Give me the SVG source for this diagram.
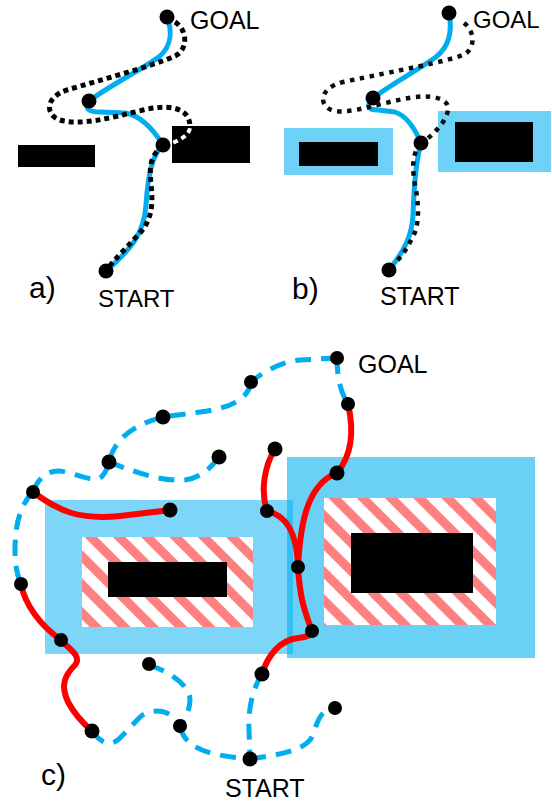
<svg xmlns="http://www.w3.org/2000/svg" width="552" height="802" viewBox="0 0 552 802">
<style>
.t{font-family:"Liberation Sans",Arial,sans-serif;fill:#000}
.blue{fill:none;stroke:#00AEEF;stroke-width:5;stroke-linecap:round}
.bd{fill:none;stroke:#00AEEF;stroke-width:5;stroke-dasharray:16 10}
.red{fill:none;stroke:#FF0000;stroke-width:6;stroke-linecap:round}
.dotA{fill:none;stroke:#000;stroke-width:5;stroke-dasharray:5 4}
.dotW{fill:none;stroke:#fff;stroke-width:4;stroke-dasharray:5 4}
.dotB{fill:none;stroke:#111;stroke-width:4.5;stroke-dasharray:4.5 5.5;filter:url(#blur)}
.obs{fill:#000}
.inf{fill:#00AEEF;opacity:0.57}
.node{fill:#000}
</style>
<defs>
<filter id="blur" x="-5%" y="-5%" width="110%" height="110%"><feGaussianBlur stdDeviation="0.5"/></filter>
<pattern id="hatch" patternUnits="userSpaceOnUse" width="20" height="20" patternTransform="rotate(-45)">
<rect width="20" height="20" fill="#fff"/>
<rect width="9" height="20" fill="#FF8080"/>
</pattern>
<clipPath id="clipA"><rect x="172" y="126" width="78" height="37"/></clipPath>
</defs>

<!-- Panel a -->
<g id="panel-a">
<rect id="a-obs-left" class="obs" x="18" y="145" width="77" height="22"/>
<rect id="a-obs-right" class="obs" x="172" y="126" width="78" height="37"/>
<g id="a-connectors">
<path class="blue" d="M167,17 C172,30 172,45 160,56 C145,68 115,82 89,101"/>
<path class="blue" d="M89,101 Q82,112 100,112 L125,113 Q145,116 163,145"/>
<path class="blue" d="M163,145 C152,155 148,175 146,205 C144,235 130,250 106,271"/>
<path class="dotA" d="M175,22 C188,30 188,50 175,56 C150,67 100,80 67,90 C45,97 45,115 60,120 C80,126 110,118 143,110 C165,105 190,105 190,127 C190,135 180,140 168,145"/>
<path class="dotW" clip-path="url(#clipA)" d="M175,22 C188,30 188,50 175,56 C150,67 100,80 67,90 C45,97 45,115 60,120 C80,126 110,118 143,110 C165,105 190,105 190,127 C190,135 180,140 168,145"/>
<path class="dotA" d="M163,145 C148,158 150,170 151,185 C154,210 150,225 133,240 C125,250 115,258 106,271"/>
</g>
<g id="a-goal"><circle class="node" cx="167" cy="17" r="7.5"/><text class="t" x="190" y="29" font-size="25">GOAL</text></g>
<g id="a-n1"><circle class="node" cx="89" cy="101" r="7.5"/></g>
<g id="a-n2"><circle class="node" cx="163" cy="145" r="7.5"/></g>
<g id="a-start"><circle class="node" cx="106" cy="271" r="7.5"/><text class="t" x="98" y="307" font-size="24">START</text></g>
<text class="t" x="29" y="298" font-size="30">a)</text>
</g>

<!-- Panel b -->
<g id="panel-b">
<rect id="b-inf-left" class="inf" x="284" y="128" width="109" height="47"/>
<rect id="b-obs-left" class="obs" x="299" y="142" width="79" height="24"/>
<rect id="b-inf-right" class="inf" x="438" y="111" width="113" height="61"/>
<rect id="b-obs-right" class="obs" x="455" y="122" width="78" height="40"/>
<g id="b-connectors">
<path class="blue" d="M449,13 C452,28 451,45 436,57 C418,70 395,82 373,98"/>
<path class="blue" d="M373,98 Q362,110 378,110 L395,112 Q410,117 421,143"/>
<path class="blue" d="M421,143 C416,160 414,185 413,215 C412,235 405,250 389,270"/>
<path class="dotB" d="M464,23 C476,32 475,50 463,55 C445,62 400,70 343,82 C318,88 318,108 335,111 C350,114 380,103 409,98 C430,94 450,98 448,110 C446,122 435,132 424,142"/>
<path class="dotB" d="M421,143 C410,155 413,175 416,190 C420,215 418,230 410,242 C405,252 400,258 394,264"/>
</g>
<g id="b-goal"><circle class="node" cx="449" cy="13" r="7.5"/><text class="t" x="473" y="28" font-size="24">GOAL</text></g>
<g id="b-n1"><circle class="node" cx="373" cy="98" r="7.5"/></g>
<g id="b-n2"><circle class="node" cx="421" cy="143" r="7.5"/></g>
<g id="b-start"><circle class="node" cx="389" cy="270" r="7.5"/><text class="t" x="380" y="305" font-size="25">START</text></g>
<text class="t" x="292" y="299" font-size="30">b)</text>
</g>

<!-- Panel c -->
<g id="panel-c">
<rect id="c-inf-left" fill="#00AEEF" opacity="0.51" x="45" y="500" width="248" height="154"/>
<rect id="c-inf-right" fill="#00AEEF" opacity="0.58" x="287" y="457" width="248" height="201"/>
<rect id="c-haz-left" fill="url(#hatch)" x="82" y="537" width="171" height="90"/>
<rect id="c-obs-left" class="obs" x="108" y="562" width="119" height="35"/>
<rect id="c-haz-right" fill="url(#hatch)" x="324" y="498" width="172" height="127"/>
<rect id="c-obs-right" class="obs" x="351" y="533" width="122" height="60"/>
<g id="c-connectors">
<path class="bd" d="M337,358 C337,375 340,392 348,404"/>
<path class="bd" d="M337,358 L300,360 C285,361 265,370 251,382"/>
<path class="bd" d="M251,382 C248,400 230,408 200,412 L163,417 C140,423 115,435 109,462"/>
<path class="bd" d="M109,462 C130,470 160,482 185,480 C200,478 212,468 219,456"/>
<path class="bd" d="M33,492 C38,478 48,470 60,471 C75,473 90,482 100,478 Q106,474 109,462"/>
<path class="bd" d="M33,492 C20,505 15,525 15,550 C15,565 17,575 21,584"/>
<path class="bd" d="M92,731 C100,742 110,748 120,738 L140,717 C150,708 172,708 180,726"/>
<path class="bd" d="M149,665 C170,672 190,685 190,700 C190,710 185,718 180,727"/>
<path class="bd" d="M180,727 C185,745 200,755 250,759"/>
<path class="bd" d="M262,674 C252,690 248,710 249,730 L250,759"/>
<path class="bd" d="M250,759 C275,755 300,752 310,740 C318,728 315,712 334,708"/>
<path class="red" d="M33,492 C60,512 80,520 120,516 L170,510"/>
<path class="red" d="M21,584 C25,605 40,625 61,640"/>
<path class="red" d="M61,640 C70,650 82,656 75,665 C65,675 60,685 68,702 C75,715 85,725 92,731"/>
<path class="red" d="M262,674 C268,655 280,640 298,638 C308,637 312,635 312,631"/>
<path class="red" d="M312,631 C305,612 300,600 298,567"/>
<path class="red" d="M298,567 C300,530 305,485 337,473"/>
<path class="red" d="M337,473 C352,455 354,430 348,404"/>
<path class="red" d="M267,511 C285,515 297,530 298,567"/>
<path class="red" d="M275,449 C265,465 260,490 267,511"/>
</g>
<g id="c-goal"><circle class="node" cx="337" cy="358" r="7"/><text class="t" x="358" y="373" font-size="25">GOAL</text></g>
<g id="c-n1"><circle class="node" cx="348" cy="404" r="7"/></g>
<g id="c-n2"><circle class="node" cx="275" cy="449" r="7.5"/></g>
<g id="c-n3"><circle class="node" cx="337" cy="473" r="7.5"/></g>
<g id="c-n4"><circle class="node" cx="267" cy="511" r="7"/></g>
<g id="c-n5"><circle class="node" cx="298" cy="567" r="7"/></g>
<g id="c-n6"><circle class="node" cx="312" cy="631" r="7"/></g>
<g id="c-n7"><circle class="node" cx="262" cy="674" r="7.5"/></g>
<g id="c-n8"><circle class="node" cx="335" cy="708" r="7"/></g>
<g id="c-n9"><circle class="node" cx="180" cy="726" r="7"/></g>
<g id="c-n10"><circle class="node" cx="149" cy="664" r="7"/></g>
<g id="c-n11"><circle class="node" cx="92" cy="731" r="7.5"/></g>
<g id="c-n12"><circle class="node" cx="61" cy="640" r="7"/></g>
<g id="c-n13"><circle class="node" cx="21" cy="584" r="7"/></g>
<g id="c-n14"><circle class="node" cx="33" cy="492" r="7"/></g>
<g id="c-n15"><circle class="node" cx="170" cy="510" r="7.5"/></g>
<g id="c-n16"><circle class="node" cx="109" cy="462" r="7.5"/></g>
<g id="c-n17"><circle class="node" cx="163" cy="417" r="7.5"/></g>
<g id="c-n18"><circle class="node" cx="251" cy="382" r="7"/></g>
<g id="c-n19"><circle class="node" cx="219" cy="457" r="7.5"/></g>
<g id="c-start"><circle class="node" cx="250" cy="759" r="7.5"/><text class="t" x="225" y="797" font-size="25">START</text></g>
<text class="t" x="41" y="785" font-size="30">c)</text>
</g>
</svg>
